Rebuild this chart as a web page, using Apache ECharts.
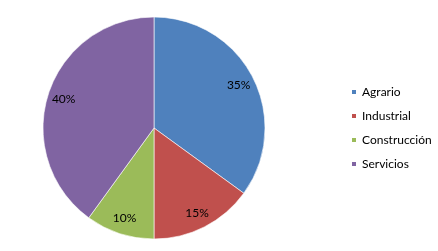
<!DOCTYPE html>
<html><head><meta charset="utf-8">
<script src="https://cdn.jsdelivr.net/npm/echarts@6/dist/echarts.min.js"></script>
<style>html,body{margin:0;padding:0;background:#fff}#c{width:438px;height:251px}</style>
</head><body><div id="c"></div>
<script>
const categories = ['Agrario', 'Industrial', 'Construcción', 'Servicios'];
const values = [35, 15, 10, 40];
const colors = ['#4F81BD', '#C0504D', '#9BBB59', '#8064A2'];

const data = categories.map((n, i) => ({ name: n, value: values[i] }));
const font = 'Lato, "Open Sans", sans-serif';
const chart = echarts.init(document.getElementById('c'));
chart.setOption({
  animation: false,
  color: colors,
  legend: {
    orient: 'vertical', left: 350, top: 85, padding: 0,
    itemWidth: 6, itemHeight: 6, itemGap: 10, icon: 'rect',
    textStyle: { fontFamily: font, fontSize: 12, color: '#000', lineHeight: 14 },
    data: categories
  },
  series: [
    {
      type: 'pie', center: [154, 128], radius: 111, startAngle: 90,
      silent: true,
      itemStyle: { borderColor: '#ffffff', borderWidth: 0.6 },
      label: { show: false }, labelLine: { show: false },
      data: data
    },
    {
      type: 'pie', center: [154, 128], radius: [73, 111], startAngle: 90,
      silent: true,
      itemStyle: { color: 'rgba(0,0,0,0)' },
      label: { show: true, position: 'inside', formatter: '{d}%', fontFamily: font, fontSize: 12, color: '#000' },
      labelLine: { show: false },
      data: data
    }
  ]
});
</script></body></html>
